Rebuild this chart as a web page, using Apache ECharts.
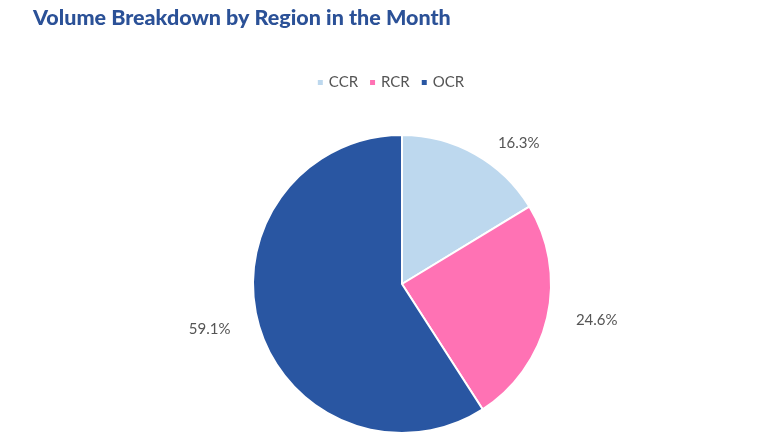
<!DOCTYPE html>
<html>
<head>
<meta charset="utf-8">
<script src="https://cdn.jsdelivr.net/npm/echarts@6/dist/echarts.min.js"></script>
<style>html,body{margin:0;padding:0;background:#fff}#chart{width:780px;height:439px}</style>
</head>
<body>
<div id="chart"></div>
<script>
const regiones = ["CCR", "RCR", "OCR"];
const porcentajes = [16.3, 24.6, 59.1];
const colores = ["#bdd8ee", "#ff72b4", "#2956a2"];

const chart = echarts.init(document.getElementById("chart"));
chart.setOption({
  backgroundColor: "#fff",
  title: {
    text: "Volume Breakdown by Region in the Month",
    left: 28, top: 2,
    textStyle: { color: "#2b5197", fontSize: 21.5, fontWeight: 900, fontFamily: "Lato" }
  },
  legend: {
    data: regiones,
    top: 70, left: "center",
    icon: "rect", itemWidth: 7, itemHeight: 7, itemGap: 10,
    textStyle: { color: "#555", fontSize: 15, fontFamily: "Lato" }
  },
  series: [{
    type: "pie",
    center: [402, 284],
    radius: 149,
    startAngle: 90,
    data: regiones.map((r, i) => ({ name: r, value: porcentajes[i], itemStyle: { color: colores[i] } })),
    itemStyle: { borderColor: "#fff", borderWidth: 2 },
    label: {
      show: true, position: "outside",
      formatter: p => p.value.toFixed(1) + "%",
      color: "#555", fontSize: 15, fontFamily: "Lato"
    },
    labelLine: { show: false, length: 12, length2: 12 }
  }]
});
</script>
</body>
</html>
